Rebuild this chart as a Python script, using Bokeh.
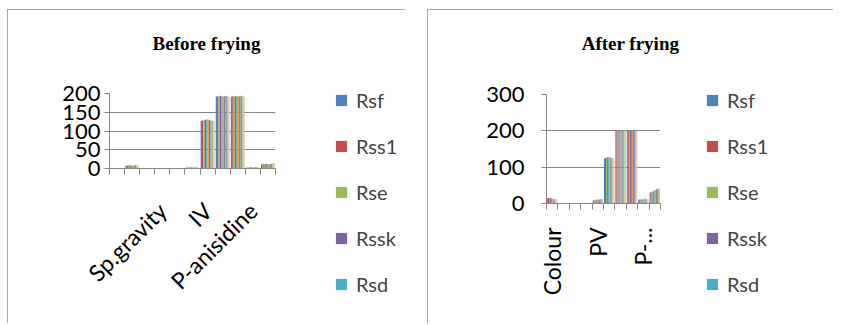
import numpy as np
from bokeh.plotting import figure
from bokeh.models import ColumnDataSource, FixedTicker, Legend, LegendItem, Range1d, Label
from bokeh.embed import file_html
from bokeh.resources import INLINE

# ---------------- data ----------------
series = ["Rsf", "Rss1", "Rse", "Rssk", "Rsd", "S6", "S7", "S8", "S9", "S10"]
legend_series = ["Rsf", "Rss1", "Rse", "Rssk", "Rsd"]
colors = ["#4F81BD", "#C0504D", "#9BBB59", "#8064A2", "#4BACC6",
          "#F79646", "#7F7F7F", "#729ACA", "#AFC97A", "#E6B9B8"]

before_title = "Before frying"
before_cats = ["", "Colour", "RI", "Sp.gravity", "FFA", "PV", "IV", "SV", "Unsap", "P-anisidine", "Totox"]
before_labels = ["", "", "", "Sp.gravity", "", "", "IV", "", "", "P-anisidine", ""]
before_vals = {
    "Rsf":  [0.9, 7.0, 1.0, 0.9, 1.0, 2.5, 127, 192, 192, 2.5, 11],
    "Rss1": [0.9, 8.0, 1.0, 0.9, 1.2, 3.0, 128, 193, 193, 3.0, 12],
    "Rse":  [0.9, 8.5, 1.0, 0.9, 1.1, 2.8, 129, 193, 192, 2.8, 12],
    "Rssk": [0.9, 9.0, 1.0, 0.9, 1.3, 3.2, 130, 194, 193, 3.2, 13],
    "Rsd":  [0.9, 8.0, 1.0, 0.9, 1.2, 3.0, 131, 193, 194, 3.0, 12],
    "S6":   [0.9, 7.5, 1.0, 0.9, 1.1, 2.9, 130, 192, 193, 2.9, 11],
    "S7":   [0.9, 8.0, 1.0, 0.9, 1.2, 3.1, 129, 193, 193, 3.1, 12],
    "S8":   [0.9, 8.5, 1.0, 0.9, 1.3, 3.3, 128, 194, 194, 3.3, 13],
    "S9":   [0.9, 8.0, 1.0, 0.9, 1.2, 3.0, 128, 193, 193, 3.0, 14],
    "S10":  [0.9, 7.5, 1.0, 0.9, 1.1, 2.9, 127, 192, 192, 2.9, 15],
}
before_yticks = [0, 50, 100, 150, 200]

after_title = "After frying"
after_cats = ["Colour", "Sp.gravity", "RI", "FFA", "PV", "IV", "SV", "Unsap", "P-anisidine", "Totox"]
after_labels = ["Colour", "", "", "", "PV", "", "", "", "P-...", ""]
after_vals = {
    "Rsf":  [14, 0.9, 1.0, 1.5, 8, 124, 200, 200, 10, 30],
    "Rss1": [15, 0.9, 1.0, 1.6, 9, 125, 200, 200, 11, 31],
    "Rse":  [16, 0.9, 1.0, 1.7, 10, 126, 200, 200, 11, 33],
    "Rssk": [15, 0.9, 1.0, 1.8, 10, 127, 200, 200, 12, 34],
    "Rsd":  [14, 0.9, 1.0, 1.7, 11, 128, 200, 200, 12, 36],
    "S6":   [13, 0.9, 1.0, 1.6, 11, 127, 200, 200, 12, 37],
    "S7":   [12, 0.9, 1.0, 1.5, 12, 126, 200, 200, 13, 39],
    "S8":   [12, 0.9, 1.0, 1.6, 12, 125, 200, 200, 13, 40],
    "S9":   [11, 0.9, 1.0, 1.7, 12, 124, 200, 200, 12, 41],
    "S10":  [11, 0.9, 1.0, 1.8, 13, 123, 200, 200, 12, 42],
}
after_yticks = [0, 100, 200, 300]

FONT = "Lato"
GRAY = "#868686"


def make_panel(cats, labels, vals, yticks, width, height, borders,
               orient, standoff, ylab_standoff, pos):
    n = len(cats)
    bl, br, bt, bb = borders
    p = figure(width=width, height=height, output_backend="svg", toolbar_location=None,
               x_range=Range1d(-0.5, n - 0.5), y_range=Range1d(yticks[0], yticks[-1]),
               min_border_left=bl, min_border_right=br, min_border_top=bt, min_border_bottom=bb,
               outline_line_color=None, background_fill_color="white",
               border_fill_color="white")
    p.styles = {"outline": "1px solid #8c8c8c", "outline-offset": "-1px",
                "position": "absolute", "left": f"{pos[0]}px", "top": f"{pos[1]}px"}

    k = len(series)
    bw = 0.92 / k
    sources = {}
    for i, s in enumerate(series):
        off = -0.46 + bw * (i + 0.5)
        src = ColumnDataSource(dict(x=np.arange(n) + off, top=vals[s]))
        p.vbar(x="x", top="top", width=bw, bottom=0, source=src,
               fill_color=colors[i], line_color=None)
        sources[s] = src

    xt = FixedTicker(ticks=list(range(n)), minor_ticks=[i - 0.5 for i in range(n + 1)])
    p.xaxis.ticker = xt
    p.xaxis.major_label_overrides = {i: labels[i] for i in range(n)}
    p.xaxis.major_tick_out = 0
    p.xaxis.major_tick_in = 0
    p.xaxis.minor_tick_out = 6
    p.xaxis.minor_tick_in = 0
    p.xaxis.minor_tick_line_color = GRAY
    p.xaxis.axis_line_color = GRAY
    p.xaxis.major_label_orientation = orient
    p.xaxis.major_label_standoff = standoff
    p.xaxis.major_label_text_font = FONT
    p.xaxis.major_label_text_font_size = "23px"
    p.xaxis.major_label_text_color = "black"

    p.yaxis.ticker = FixedTicker(ticks=yticks)
    p.yaxis.minor_tick_line_color = None
    p.yaxis.major_tick_out = 5
    p.yaxis.major_tick_in = 0
    p.yaxis.major_tick_line_color = GRAY
    p.yaxis.axis_line_color = GRAY
    p.yaxis.major_label_standoff = ylab_standoff
    p.yaxis.major_label_text_font = FONT
    p.yaxis.major_label_text_font_size = "22px"
    p.yaxis.major_label_text_color = "black"

    p.xgrid.grid_line_color = None
    p.ygrid.grid_line_color = GRAY
    p.ygrid.ticker = FixedTicker(ticks=yticks)
    return p, sources


def overlay(width, height, pos):
    o = figure(width=width, height=height, output_backend="svg", toolbar_location=None,
               x_axis_type=None, y_axis_type=None, min_border=0,
               x_range=Range1d(-100, -99), y_range=Range1d(0, 1),
               outline_line_color=None, background_fill_alpha=0, border_fill_alpha=0)
    o.xgrid.grid_line_color = None
    o.ygrid.grid_line_color = None
    o.styles = {"position": "absolute", "left": f"{pos[0]}px", "top": f"{pos[1]}px"}
    return o


def make_title(text, pos):
    t = overlay(300, 30, pos)
    t.add_layout(Label(x=150, y=15, x_units="screen", y_units="screen", text=text,
                       text_font="Liberation Serif", text_font_style="bold",
                       text_font_size="19px", text_align="center", text_baseline="middle",
                       text_color="black"))
    return t


def make_legend(sources, pos):
    # transparent overlay holding the series legend (its bars lie out of view)
    lg = overlay(85, 225, pos)
    items = []
    for i, s in enumerate(series):
        if s not in legend_series:
            continue
        r = lg.vbar(x="x", top="top", width=0.05, source=sources[s],
                    fill_color=colors[i], line_color=None)
        items.append(LegendItem(label=s, renderers=[r]))
    leg = Legend(items=items, location="top_left", orientation="vertical",
                 border_line_color=None, background_fill_alpha=0, padding=0, margin=0,
                 spacing=22, glyph_height=14, glyph_width=14, label_standoff=8,
                 label_text_font=FONT, label_text_font_size="20px", label_height=24)
    lg.add_layout(leg, "center")
    return lg


H = 314
left, left_src = make_panel(before_cats, before_labels, before_vals, before_yticks,
                            398, H, (102, 130, 84, 155), np.pi / 4, 32, 4, (7, 9))
right, right_src = make_panel(after_cats, after_labels, after_vals, after_yticks,
                              406, H, (119, 173, 85, 120), np.pi / 2, 18, 17, (427, 9))
roots = [left, right,
         make_title(before_title, (56, 28)), make_title(after_title, (480, 28)),
         make_legend(left_src, (334, 88)), make_legend(right_src, (705, 88))]

open("out.html", "w").write(file_html(roots, INLINE))
